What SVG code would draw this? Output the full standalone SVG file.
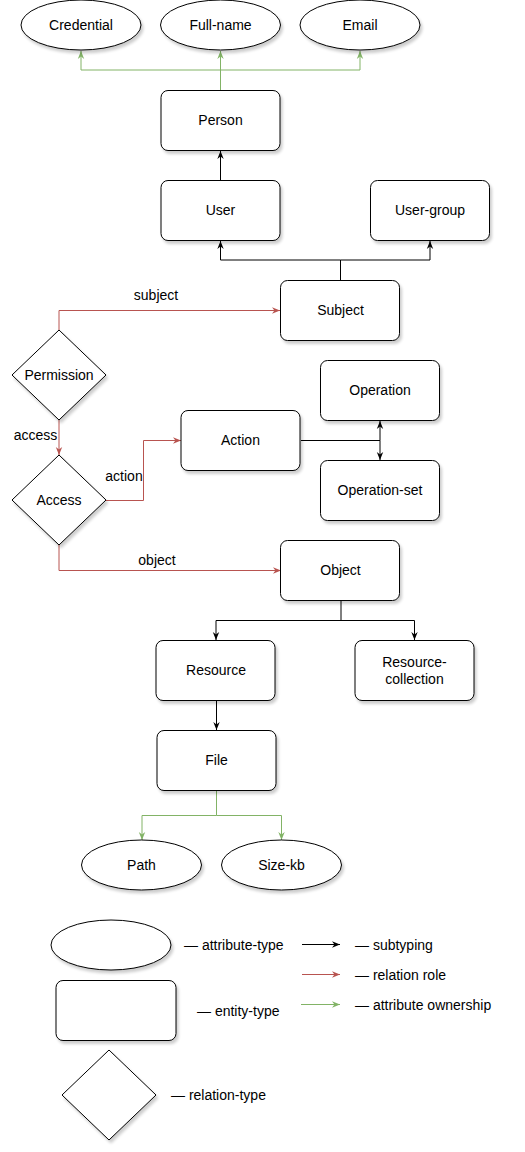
<svg xmlns="http://www.w3.org/2000/svg" width="525" height="1152" viewBox="0 0 525 1152">
<style>
.n{fill:#fff;stroke:#000;stroke-width:1;filter:url(#sh)}
.t{font-family:"Liberation Sans",Arial,sans-serif;font-size:14px;fill:#000;text-anchor:middle;dominant-baseline:central}
.l{font-family:"Liberation Sans",Arial,sans-serif;font-size:14px;fill:#000;dominant-baseline:central}
.k{fill:none;stroke:#000;stroke-width:1}
.r{fill:none;stroke:#b85450;stroke-width:1}
.g{fill:none;stroke:#82b366;stroke-width:1}
</style>
<defs>
<filter id="sh" x="-20%" y="-20%" width="140%" height="150%">
<feGaussianBlur in="SourceAlpha" stdDeviation="1.5"/>
<feOffset dx="2" dy="3" result="o"/>
<feComponentTransfer><feFuncA type="linear" slope="0.2"/></feComponentTransfer>
<feMerge><feMergeNode/><feMergeNode in="SourceGraphic"/></feMerge>
</filter>
<marker id="ak" viewBox="0 0 10 10" refX="10" refY="5" markerWidth="8" markerHeight="8" markerUnits="userSpaceOnUse" orient="auto"><path d="M0,1 L10,5 L0,9 L3,5 z" fill="#000"/></marker>
<marker id="ar" viewBox="0 0 10 10" refX="10" refY="5" markerWidth="8" markerHeight="8" markerUnits="userSpaceOnUse" orient="auto"><path d="M0,1 L10,5 L0,9 L3,5 z" fill="#b85450"/></marker>
<marker id="ag" viewBox="0 0 10 10" refX="10" refY="5" markerWidth="8" markerHeight="8" markerUnits="userSpaceOnUse" orient="auto"><path d="M0,1 L10,5 L0,9 L3,5 z" fill="#82b366"/></marker>
</defs>

<g id="connectors">
<path class="g" d="M220.5,90 V70 H81 V51" marker-end="url(#ag)"/>
<path class="g" d="M220.5,90 V51" marker-end="url(#ag)"/>
<path class="g" d="M220.5,70 H360 V51" marker-end="url(#ag)"/>
<path class="k" d="M220.5,180 V151" marker-end="url(#ak)"/>
<path class="k" d="M340.5,280 V260 H220.5 V241" marker-end="url(#ak)"/>
<path class="k" d="M340.5,260 H430 V241" marker-end="url(#ak)"/>
<path class="r" d="M59,330 V310.5 H280" marker-end="url(#ar)"/>
<path class="r" d="M59,420 V455" marker-end="url(#ar)"/>
<path class="r" d="M106,500.5 H143.5 V440.5 H181" marker-end="url(#ar)"/>
<path class="k" d="M301,440.5 H380 V421" marker-end="url(#ak)"/>
<path class="k" d="M380,440.5 V460" marker-end="url(#ak)"/>
<path class="r" d="M59,545 V570.5 H281" marker-end="url(#ar)"/>
<path class="k" d="M341,600 V620.5 H216 V640" marker-end="url(#ak)"/>
<path class="k" d="M341,620.5 H414.5 V640" marker-end="url(#ak)"/>
<path class="k" d="M216.5,700 V730" marker-end="url(#ak)"/>
<path class="g" d="M216.5,790 V815.5 H142 V840" marker-end="url(#ag)"/>
<path class="g" d="M216.5,815.5 H281.5 V840" marker-end="url(#ag)"/>
</g>

<g id="credential"><ellipse class="n" cx="81" cy="25" rx="60" ry="25"/><text class="t" x="81" y="25">Credential</text></g>
<g id="full-name"><ellipse class="n" cx="220.5" cy="25" rx="60" ry="25"/><text class="t" x="220.5" y="25">Full-name</text></g>
<g id="email"><ellipse class="n" cx="360" cy="25" rx="60" ry="25"/><text class="t" x="360" y="25">Email</text></g>
<g id="person"><rect class="n" x="161" y="90.5" width="119" height="60" rx="7"/><text class="t" x="220.5" y="120">Person</text></g>
<g id="user"><rect class="n" x="161" y="180.5" width="119" height="60" rx="7"/><text class="t" x="220.5" y="210">User</text></g>
<g id="user-group"><rect class="n" x="370.5" y="180.5" width="119" height="60" rx="7"/><text class="t" x="430" y="210">User-group</text></g>
<g id="subject"><rect class="n" x="280.5" y="280.5" width="119" height="60" rx="7"/><text class="t" x="340.5" y="310">Subject</text></g>
<g id="permission"><polygon class="n" points="59,330 106,375 59,420 12,375"/><text class="t" x="59" y="375">Permission</text></g>
<g id="access"><polygon class="n" points="59,455 106,500 59,545 12,500"/><text class="t" x="59" y="500">Access</text></g>
<g id="action"><rect class="n" x="181" y="410.5" width="119" height="60" rx="7"/><text class="t" x="240.5" y="440">Action</text></g>
<g id="operation"><rect class="n" x="320.5" y="360.5" width="119" height="60" rx="7"/><text class="t" x="380" y="390">Operation</text></g>
<g id="operation-set"><rect class="n" x="320.5" y="460.5" width="119" height="60" rx="7"/><text class="t" x="380" y="490">Operation-set</text></g>
<g id="object"><rect class="n" x="280.5" y="540.5" width="119" height="60" rx="7"/><text class="t" x="340.5" y="570">Object</text></g>
<g id="resource"><rect class="n" x="156" y="640.5" width="119" height="60" rx="7"/><text class="t" x="216" y="670">Resource</text></g>
<g id="resource-collection"><rect class="n" x="355" y="640.5" width="119" height="60" rx="7"/><text class="t" x="414.5" y="662">Resource-</text><text class="t" x="414.5" y="679">collection</text></g>
<g id="file"><rect class="n" x="157" y="730.5" width="119" height="60" rx="7"/><text class="t" x="216.5" y="760">File</text></g>
<g id="path"><ellipse class="n" cx="141.5" cy="865" rx="60" ry="25"/><text class="t" x="141.5" y="865">Path</text></g>
<g id="size-kb"><ellipse class="n" cx="281.5" cy="865" rx="60" ry="25"/><text class="t" x="281.5" y="865">Size-kb</text></g>

<g id="labels">
<text class="t" x="156" y="295">subject</text>
<text class="t" x="35.5" y="435">access</text>
<text class="t" x="124" y="475.5">action</text>
<text class="t" x="157" y="560">object</text>
</g>

<g id="legend">
<ellipse class="n" cx="111" cy="945" rx="60" ry="25"/>
<rect class="n" x="56" y="980.5" width="120" height="60" rx="7"/>
<polygon class="n" points="109,1050 156,1095 109,1140 62,1095"/>
<text class="l" x="184" y="945">— attribute-type</text>
<text class="l" x="197" y="1011">— entity-type</text>
<text class="l" x="171" y="1095">— relation-type</text>
<path class="k" d="M302,944.5 H340" marker-end="url(#ak)"/>
<path class="r" d="M302,974.5 H340" marker-end="url(#ar)"/>
<path class="g" d="M301,1004.5 H340" marker-end="url(#ag)"/>
<text class="l" x="355" y="945">— subtyping</text>
<text class="l" x="355" y="975">— relation role</text>
<text class="l" x="355" y="1005">— attribute ownership</text>
</g>
</svg>
